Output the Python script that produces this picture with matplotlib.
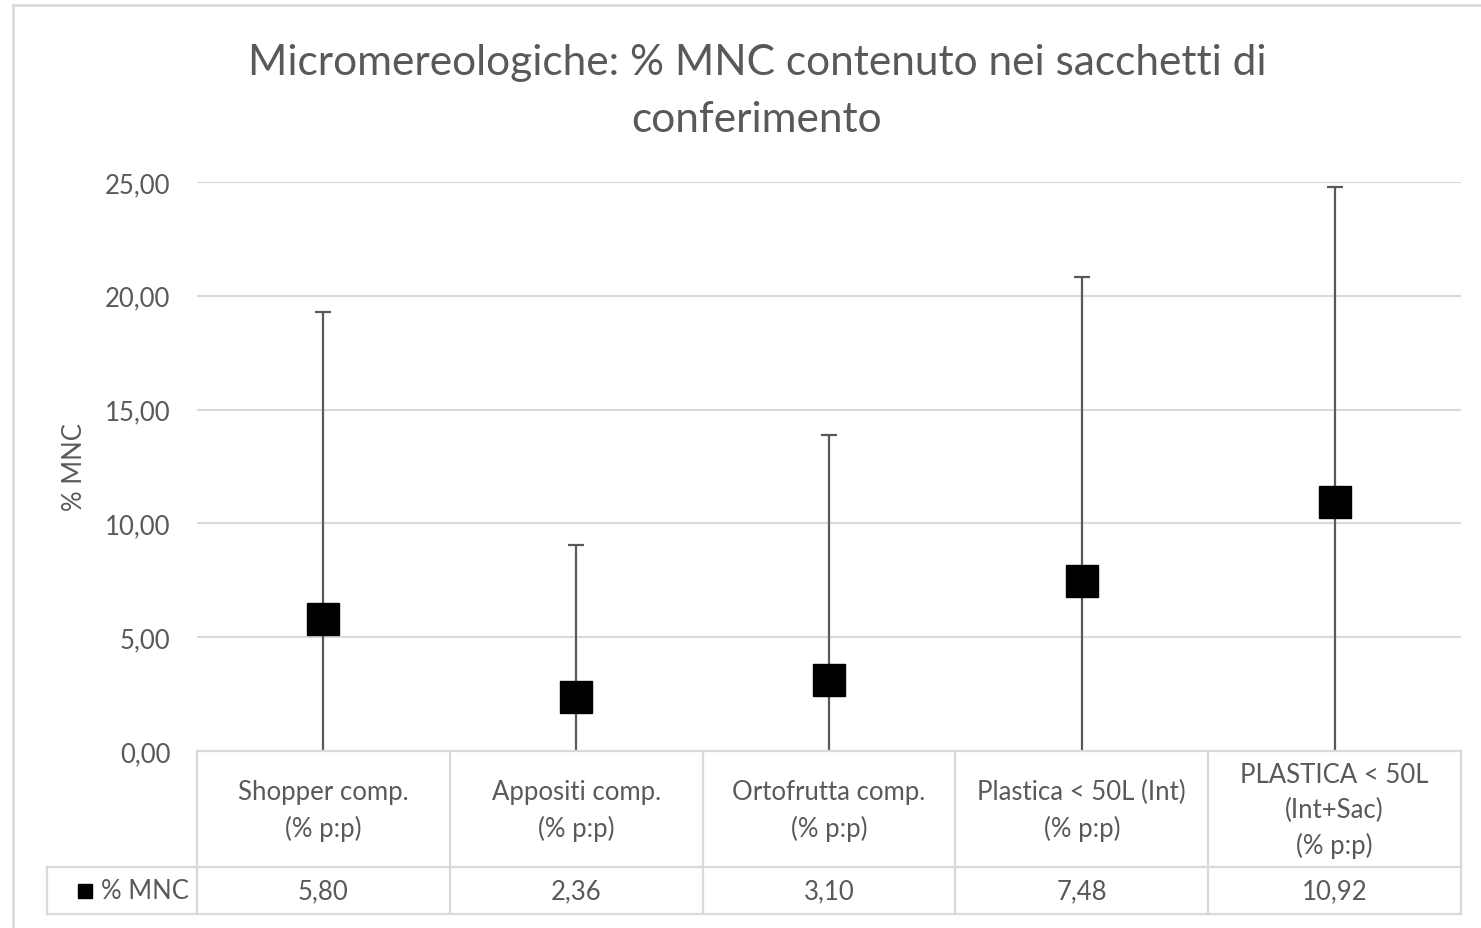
import numpy as np
import matplotlib.pyplot as plt
from matplotlib.lines import Line2D

categories = ["Shopper comp.\n(% p:p)", "Appositi comp.\n(% p:p)", "Ortofrutta comp.\n(% p:p)",
              "Plastica < 50L (Int)\n(% p:p)", "PLASTICA < 50L\n(Int+Sac)\n(% p:p)"]
mnc = [5.80, 2.36, 3.10, 7.48, 10.92]
err = [13.49, 6.69, 10.78, 13.35, 13.86]
yticks = [0, 5, 10, 15, 20, 25]
series_name = "% MNC"
title = "Micromereologiche: % MNC contenuto nei sacchetti di\nconferimento"

plt.rcParams['font.family'] = ['Lato', 'DejaVu Sans']
TXT = '#595959'
GRID = '#d9d9d9'

W, H = 1481, 929
fig = plt.figure(figsize=(W / 100, H / 100), dpi=100)


def box(l, t, r, b):
    return [l / W, 1 - b / H, (r - l) / W, (b - t) / H]


def it(v):
    return f"{v:.2f}".replace('.', ',')


# outer chart border (only left and top visible)
fig.add_artist(Line2D([13 / W, 13 / W], [0, 1 - 6 / H], color=GRID, lw=1.8))
fig.add_artist(Line2D([13 / W, 1], [1 - 6 / H, 1 - 6 / H], color=GRID, lw=1.8))

fig.text(757 / W, 1 - 132 / H, title, ha='center', va='baseline', fontsize=30.5,
         color=TXT, linespacing=1.6)

ax = fig.add_axes(box(197, 183, 1461, 752))
x = np.arange(len(mnc))
ax.errorbar(x, mnc, yerr=err, fmt='s', color='black', ms=23, ecolor=TXT,
            elinewidth=1.6, capsize=5.5, capthick=1.6, zorder=3)
ax.set_xlim(-0.5, len(mnc) - 0.5)
ax.set_ylim(0, 25)
ax.set_yticks(yticks)
ax.set_yticklabels([it(v) for v in yticks])
ax.grid(axis='y', color=GRID, lw=1.5)
ax.set_axisbelow(True)
for s in ['top', 'right', 'left', 'bottom']:
    ax.spines[s].set_visible(False)
ax.tick_params(axis='y', length=0, pad=19, labelsize=18.5, labelcolor=TXT)
ax.tick_params(axis='x', length=0, labelbottom=False)
fig.text(75 / W, 1 - 467 / H, series_name, rotation=90, ha='center', va='center',
         fontsize=18.5, color=TXT)

# data table below the plot
tab = fig.add_axes(box(197, 752, 1461, 915))
tab.set_xlim(-0.5, len(mnc) - 0.5)
tab.set_ylim(163, 0)
tab.axis('off')
rl = 150 / 252.8
kw = dict(color=GRID, lw=1.6, clip_on=False)
for i in range(len(mnc) + 1):
    tab.plot([i - 0.5, i - 0.5], [0, 163], **kw)
tab.plot([-0.5, len(mnc) - 0.5], [0, 0], **kw)
tab.plot([-0.5 - rl, len(mnc) - 0.5], [116, 116], **kw)
tab.plot([-0.5 - rl, len(mnc) - 0.5], [163, 163], **kw)
tab.plot([-0.5 - rl, -0.5 - rl], [116, 163], **kw)
for i, (c, v) in enumerate(zip(categories, mnc)):
    tab.text(i, 59, c, ha='center', va='center', fontsize=18.5, color=TXT, linespacing=1.5)
    tab.text(i, 139.5, it(v), ha='center', va='center', fontsize=18.5, color=TXT)
tab.plot([-0.5 - 112 / 252.8], [139.5], 's', color='black', ms=10, clip_on=False)
tab.text(-0.5 - 96 / 252.8, 139.5, series_name, ha='left', va='center', fontsize=18.5, color=TXT)

fig.savefig('out.png', dpi=100)
